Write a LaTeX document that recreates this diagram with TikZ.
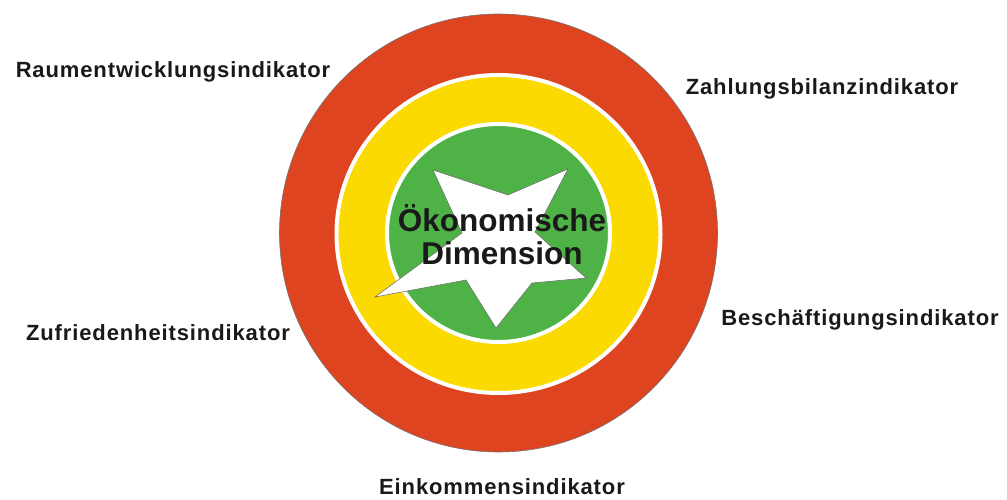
\documentclass[tikz,border=0pt]{standalone}
\usepackage{fontspec}
\setmainfont{Liberation Sans}
\newfontfamily\lblfont[LetterSpace=4]{Liberation Sans}
\usetikzlibrary{positioning}
\definecolor{ringred}{RGB}{222,68,32}
\definecolor{ringyellow}{RGB}{250,218,0}
\definecolor{ringgreen}{RGB}{78,178,70}
\tikzset{
  ring/.style={draw=white, line width=4pt},
  outerring/.style={draw=black!55, line width=0.6pt, fill=ringred},
  starshape/.style={draw=black!60, line width=0.5pt, fill=white},
  lbl/.style={font=\lblfont\fontsize{22}{24}\selectfont\bfseries,
              anchor=base, inner sep=0pt, text=black!90},
  dimlbl/.style={font=\fontsize{31.5}{33}\selectfont\bfseries,
                 align=center, inner sep=0pt, text=black!90},
}

\begin{document}
\begin{tikzpicture}[x=1pt, y=1pt]
  \useasboundingbox (0,0) rectangle (1007,499);
  \coordinate (ctr) at (498.5,266);
  \filldraw[outerring] (ctr) circle[radius=219];
  \filldraw[ring, fill=ringyellow] (498.5,265) ellipse[x radius=162, y radius=159];
  \filldraw[ring, fill=ringgreen] (ctr) ellipse[x radius=111.5, y radius=109];
  \filldraw[starshape] (433,329) -- (508,304) -- (568,330) -- (535,267)
    -- (586,221) -- (532,216) -- (496,171) -- (466,219) -- (375,202)
    -- (462,266) -- cycle;
  \node[dimlbl] (dim) at (502,264) {Ökonomische\\Dimension};
  \node[lbl] (raum) at (173,421) {Raumentwicklungsindikator};
  \node[lbl] (zahlung) at (822,404) {Zahlungsbilanzindikator};
  \node[lbl] (zufrieden) at (158,159) {Zufriedenheitsindikator};
  \node[lbl] (beschaeft) at (860,174) {Beschäftigungsindikator};
  \node[lbl] (einkommen) at (502,5) {Einkommensindikator};
\end{tikzpicture}
\end{document}
